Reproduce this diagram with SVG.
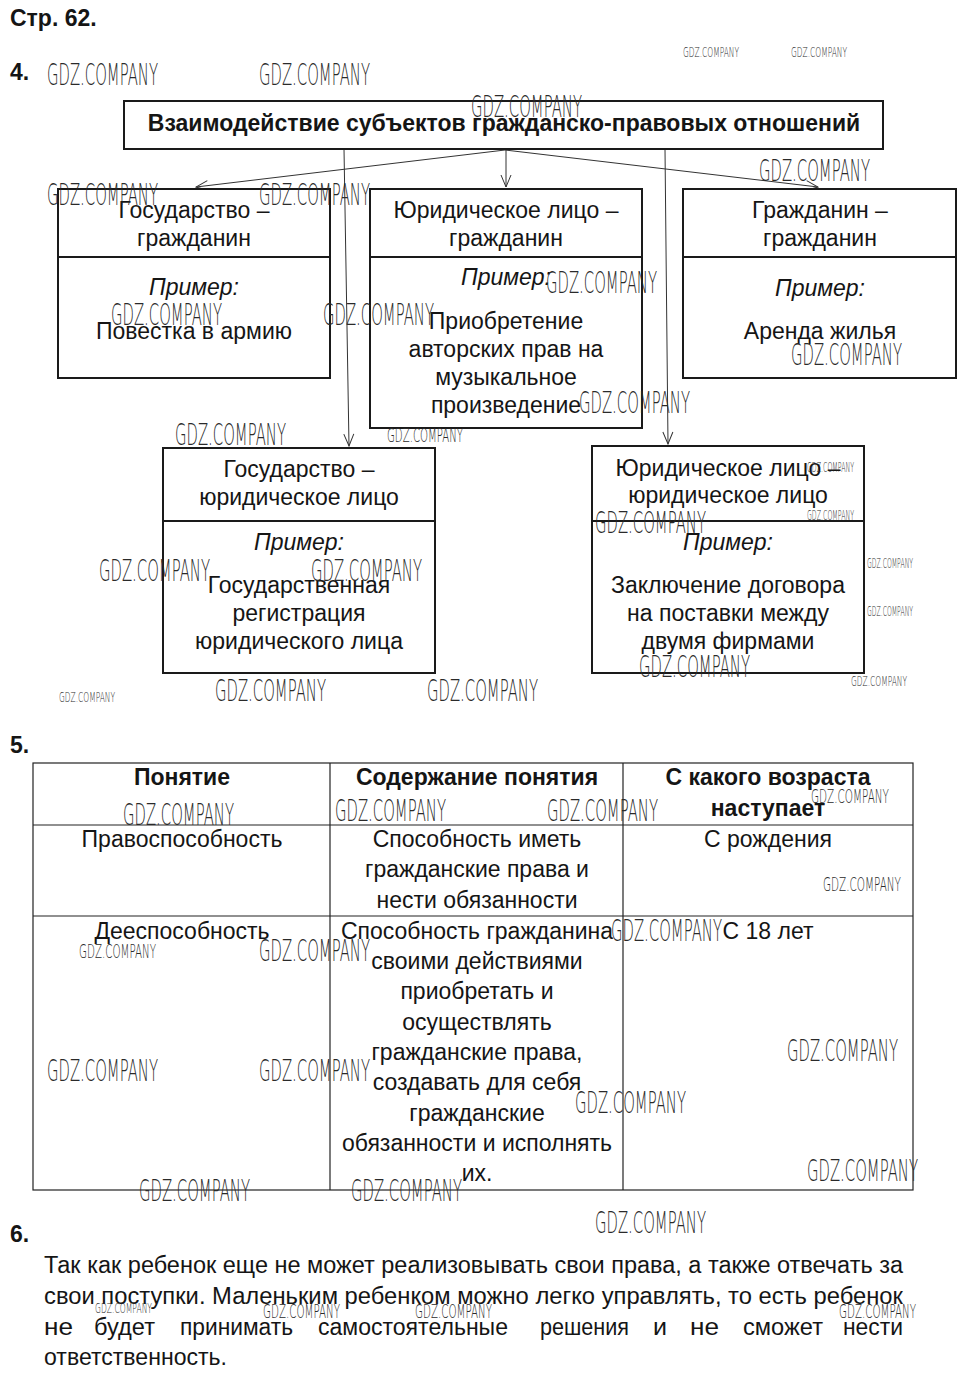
<svg xmlns="http://www.w3.org/2000/svg" width="969" height="1378" viewBox="0 0 969 1378">
<defs>
<marker id="arr" markerWidth="14" markerHeight="12" refX="13" refY="6" orient="auto" markerUnits="userSpaceOnUse">
<path d="M1,1 L13,6 L1,11" fill="none" stroke="#333" stroke-width="1"/>
</marker>
<style>
.t{font-family:"Liberation Sans",Arial,sans-serif;font-size:23px;fill:#151515;text-anchor:middle}
.b{font-weight:bold}
.i{font-style:italic}
.l{text-anchor:start}
.box{fill:#fff;stroke:#1a1a1a;stroke-width:2}
.div{stroke:#1a1a1a;stroke-width:2}
.con{stroke:#333;stroke-width:1;fill:none}
.grid{stroke:#222;stroke-width:1.2;fill:none}
.w{font-family:"DejaVu Sans","Liberation Sans",sans-serif;font-weight:200;fill:#2a2a2a;font-size:30px}
.ws{font-family:"DejaVu Sans","Liberation Sans",sans-serif;font-weight:200;fill:#2a2a2a;font-size:14px}
.wm{font-family:"DejaVu Sans","Liberation Sans",sans-serif;font-weight:200;fill:#2a2a2a;font-size:19px}
.p{font-family:"Liberation Sans",Arial,sans-serif;font-size:23px;fill:#151515}
</style>
</defs>
<rect width="969" height="1378" fill="#fff"/>

<text class="t b l" x="10" y="26" font-size="21">Стр. 62.</text>
<text class="t b l" x="10" y="80" font-size="22">4.</text>
<text class="t b l" x="10" y="753" font-size="22">5.</text>
<text class="t b l" x="10" y="1242" font-size="22">6.</text>

<g id="connectors">
<line class="con" x1="505" y1="150" x2="196" y2="187" marker-end="url(#arr)"/>
<line class="con" x1="506" y1="150" x2="506" y2="187" marker-end="url(#arr)"/>
<line class="con" x1="505" y1="150" x2="818" y2="187" marker-end="url(#arr)"/>
<line class="con" x1="344" y1="149" x2="349" y2="446" marker-end="url(#arr)"/>
<line class="con" x1="665" y1="149" x2="668" y2="444" marker-end="url(#arr)"/>
</g>

<g id="title">
<rect class="box" x="124" y="101" width="759" height="48"/>
<text class="t b" x="504" y="131" font-size="22">Взаимодействие субъектов гражданско-правовых отношений</text>
</g>

<g id="n1">
<rect class="box" x="58" y="189" width="272" height="189"/>
<line class="div" x1="58" y1="257" x2="330" y2="257"/>
<text class="t" x="194" y="218">Государство –</text>
<text class="t" x="194" y="246">гражданин</text>
<text class="t i" x="194" y="295">Пример:</text>
<text class="t" x="194" y="339">Повестка в армию</text>
</g>

<g id="n2">
<rect class="box" x="370" y="189" width="272" height="239"/>
<line class="div" x1="370" y1="257" x2="642" y2="257"/>
<text class="t" x="506" y="218">Юридическое лицо –</text>
<text class="t" x="506" y="246">гражданин</text>
<text class="t i" x="506" y="285">Пример:</text>
<text class="t" x="506" y="329">Приобретение</text>
<text class="t" x="506" y="357">авторских прав на</text>
<text class="t" x="506" y="385">музыкальное</text>
<text class="t" x="506" y="413">произведение</text>
</g>

<g id="n3">
<rect class="box" x="683" y="189" width="273" height="189"/>
<line class="div" x1="683" y1="257" x2="956" y2="257"/>
<text class="t" x="820" y="218">Гражданин –</text>
<text class="t" x="820" y="246">гражданин</text>
<text class="t i" x="820" y="296">Пример:</text>
<text class="t" x="820" y="339">Аренда жилья</text>
</g>

<g id="n4">
<rect class="box" x="163" y="448" width="272" height="225"/>
<line class="div" x1="163" y1="521" x2="435" y2="521"/>
<text class="t" x="299" y="477">Государство –</text>
<text class="t" x="299" y="505">юридическое лицо</text>
<text class="t i" x="299" y="550">Пример:</text>
<text class="t" x="299" y="593">Государственная</text>
<text class="t" x="299" y="621">регистрация</text>
<text class="t" x="299" y="649">юридического лица</text>
</g>

<g id="n5">
<rect class="box" x="592" y="446" width="272" height="227"/>
<line class="div" x1="592" y1="521" x2="864" y2="521"/>
<text class="t" x="728" y="476">Юридическое лицо –</text>
<text class="t" x="728" y="503">юридическое лицо</text>
<text class="t i" x="728" y="550">Пример:</text>
<text class="t" x="728" y="593">Заключение договора</text>
<text class="t" x="728" y="621">на поставки между</text>
<text class="t" x="728" y="649">двумя фирмами</text>
</g>

<g id="table">
<rect class="grid" x="33" y="763" width="880" height="427"/>
<line class="grid" x1="33" y1="825" x2="913" y2="825"/>
<line class="grid" x1="33" y1="916" x2="913" y2="916"/>
<line class="grid" x1="330" y1="763" x2="330" y2="1190"/>
<line class="grid" x1="623" y1="763" x2="623" y2="1190"/>
<text class="t b" x="182" y="785">Понятие</text>
<text class="t b" x="477" y="785">Содержание понятия</text>
<text class="t b" x="768" y="785">С какого возраста</text>
<text class="t b" x="768" y="816">наступает</text>
<text class="t" x="182" y="847">Правоспособность</text>
<text class="t" x="477" y="847">Способность иметь</text>
<text class="t" x="477" y="877">гражданские права и</text>
<text class="t" x="477" y="908">нести обязанности</text>
<text class="t" x="768" y="847">С рождения</text>
<text class="t" x="182" y="939">Дееспособность</text>
<text class="t" x="477" y="939">Способность гражданина</text>
<text class="t" x="477" y="969">своими действиями</text>
<text class="t" x="477" y="999">приобретать и</text>
<text class="t" x="477" y="1030">осуществлять</text>
<text class="t" x="477" y="1060">гражданские права,</text>
<text class="t" x="477" y="1090">создавать для себя</text>
<text class="t" x="477" y="1121">гражданские</text>
<text class="t" x="477" y="1151">обязанности и исполнять</text>
<text class="t" x="477" y="1181">их.</text>
<text class="t" x="768" y="939">С 18 лет</text>
</g>

<g id="answer6">
<text class="p" x="44" y="1273" textLength="859" lengthAdjust="spacingAndGlyphs">Так как ребенок еще не может реализовывать свои права, а также отвечать за</text>
<text class="p" x="44" y="1304" textLength="859" lengthAdjust="spacingAndGlyphs">свои поступки. Маленьким ребенком можно легко управлять, то есть ребенок</text>
<text class="p" y="1335"><tspan x="44" textLength="29" lengthAdjust="spacingAndGlyphs">не</tspan><tspan x="94" textLength="61" lengthAdjust="spacingAndGlyphs">будет</tspan><tspan x="180" textLength="113" lengthAdjust="spacingAndGlyphs">принимать</tspan><tspan x="318" textLength="190" lengthAdjust="spacingAndGlyphs">самостоятельные</tspan><tspan x="540" textLength="89" lengthAdjust="spacingAndGlyphs">решения</tspan><tspan x="653" textLength="14" lengthAdjust="spacingAndGlyphs">и</tspan><tspan x="690" textLength="29" lengthAdjust="spacingAndGlyphs">не</tspan><tspan x="743" textLength="80" lengthAdjust="spacingAndGlyphs">сможет</tspan><tspan x="843" textLength="60" lengthAdjust="spacingAndGlyphs">нести</tspan></text>
<text class="p" x="44" y="1365" textLength="183" lengthAdjust="spacingAndGlyphs">ответственность.</text>
</g>

<g id="watermarks">
<text class="w" x="47" y="85" textLength="111" lengthAdjust="spacingAndGlyphs">GDZ.COMPANY</text>
<text class="w" x="259" y="85" textLength="111" lengthAdjust="spacingAndGlyphs">GDZ.COMPANY</text>
<text class="w" x="471" y="117" textLength="111" lengthAdjust="spacingAndGlyphs">GDZ.COMPANY</text>
<text class="w" x="759" y="181" textLength="111" lengthAdjust="spacingAndGlyphs">GDZ.COMPANY</text>
<text class="w" x="47" y="205" textLength="111" lengthAdjust="spacingAndGlyphs">GDZ.COMPANY</text>
<text class="w" x="259" y="205" textLength="111" lengthAdjust="spacingAndGlyphs">GDZ.COMPANY</text>
<text class="w" x="546" y="293" textLength="111" lengthAdjust="spacingAndGlyphs">GDZ.COMPANY</text>
<text class="w" x="111" y="325" textLength="111" lengthAdjust="spacingAndGlyphs">GDZ.COMPANY</text>
<text class="w" x="323" y="325" textLength="111" lengthAdjust="spacingAndGlyphs">GDZ.COMPANY</text>
<text class="w" x="791" y="365" textLength="111" lengthAdjust="spacingAndGlyphs">GDZ.COMPANY</text>
<text class="w" x="579" y="413" textLength="111" lengthAdjust="spacingAndGlyphs">GDZ.COMPANY</text>
<text class="w" x="175" y="445" textLength="111" lengthAdjust="spacingAndGlyphs">GDZ.COMPANY</text>
<text class="w" x="595" y="533" textLength="111" lengthAdjust="spacingAndGlyphs">GDZ.COMPANY</text>
<text class="w" x="99" y="581" textLength="111" lengthAdjust="spacingAndGlyphs">GDZ.COMPANY</text>
<text class="w" x="311" y="581" textLength="111" lengthAdjust="spacingAndGlyphs">GDZ.COMPANY</text>
<text class="w" x="639" y="677" textLength="111" lengthAdjust="spacingAndGlyphs">GDZ.COMPANY</text>
<text class="w" x="215" y="701" textLength="111" lengthAdjust="spacingAndGlyphs">GDZ.COMPANY</text>
<text class="w" x="427" y="701" textLength="111" lengthAdjust="spacingAndGlyphs">GDZ.COMPANY</text>
<text class="w" x="123" y="825" textLength="111" lengthAdjust="spacingAndGlyphs">GDZ.COMPANY</text>
<text class="w" x="335" y="821" textLength="111" lengthAdjust="spacingAndGlyphs">GDZ.COMPANY</text>
<text class="w" x="547" y="821" textLength="111" lengthAdjust="spacingAndGlyphs">GDZ.COMPANY</text>
<text class="w" x="611" y="941" textLength="111" lengthAdjust="spacingAndGlyphs">GDZ.COMPANY</text>
<text class="w" x="259" y="961" textLength="111" lengthAdjust="spacingAndGlyphs">GDZ.COMPANY</text>
<text class="w" x="47" y="1081" textLength="111" lengthAdjust="spacingAndGlyphs">GDZ.COMPANY</text>
<text class="w" x="259" y="1081" textLength="111" lengthAdjust="spacingAndGlyphs">GDZ.COMPANY</text>
<text class="w" x="787" y="1061" textLength="111" lengthAdjust="spacingAndGlyphs">GDZ.COMPANY</text>
<text class="w" x="575" y="1113" textLength="111" lengthAdjust="spacingAndGlyphs">GDZ.COMPANY</text>
<text class="w" x="807" y="1181" textLength="111" lengthAdjust="spacingAndGlyphs">GDZ.COMPANY</text>
<text class="w" x="139" y="1201" textLength="111" lengthAdjust="spacingAndGlyphs">GDZ.COMPANY</text>
<text class="w" x="351" y="1201" textLength="111" lengthAdjust="spacingAndGlyphs">GDZ.COMPANY</text>
<text class="w" x="595" y="1233" textLength="111" lengthAdjust="spacingAndGlyphs">GDZ.COMPANY</text>
<text class="ws" x="683" y="57" textLength="56" lengthAdjust="spacingAndGlyphs">GDZ.COMPANY</text>
<text class="ws" x="791" y="57" textLength="56" lengthAdjust="spacingAndGlyphs">GDZ.COMPANY</text>
<text class="wm" x="387" y="442" font-size="15" textLength="76" lengthAdjust="spacingAndGlyphs">GDZ.COMPANY</text>
<text class="ws" x="807" y="472" font-size="12" textLength="47" lengthAdjust="spacingAndGlyphs">GDZ.COMPANY</text>
<text class="ws" x="807" y="520" font-size="12" textLength="47" lengthAdjust="spacingAndGlyphs">GDZ.COMPANY</text>
<text class="ws" x="867" y="568" font-size="12" textLength="46" lengthAdjust="spacingAndGlyphs">GDZ.COMPANY</text>
<text class="ws" x="867" y="616" font-size="12" textLength="46" lengthAdjust="spacingAndGlyphs">GDZ.COMPANY</text>
<text class="ws" x="851" y="686" textLength="56" lengthAdjust="spacingAndGlyphs">GDZ.COMPANY</text>
<text class="ws" x="59" y="702" textLength="56" lengthAdjust="spacingAndGlyphs">GDZ.COMPANY</text>
<text class="wm" x="811" y="803" textLength="78" lengthAdjust="spacingAndGlyphs">GDZ.COMPANY</text>
<text class="wm" x="823" y="891" textLength="78" lengthAdjust="spacingAndGlyphs">GDZ.COMPANY</text>
<text class="wm" x="79" y="958" textLength="77" lengthAdjust="spacingAndGlyphs">GDZ.COMPANY</text>
<text class="ws" x="95" y="1313" textLength="57" lengthAdjust="spacingAndGlyphs">GDZ.COMPANY</text>
<text class="wm" x="263" y="1318" textLength="77" lengthAdjust="spacingAndGlyphs">GDZ.COMPANY</text>
<text class="wm" x="415" y="1318" textLength="77" lengthAdjust="spacingAndGlyphs">GDZ.COMPANY</text>
<text class="wm" x="839" y="1318" textLength="77" lengthAdjust="spacingAndGlyphs">GDZ.COMPANY</text>
</g>
</svg>
